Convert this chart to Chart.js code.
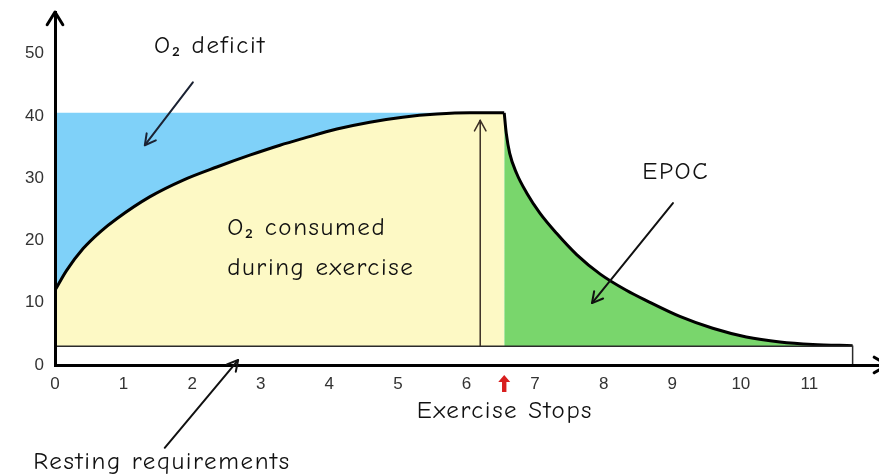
<!DOCTYPE html>
<html>
<head>
<meta charset="utf-8">
<script src="https://cdn.jsdelivr.net/npm/chart.js@4.4.1/dist/chart.umd.min.js"></script>
<style>
  html, body { margin: 0; padding: 0; background: #fff; }
  #wrap { width: 879px; height: 474px; }
</style>
</head>
<body>
<div id="wrap"><canvas id="chart"></canvas></div>
<script>
// 運動中的攝氧量
const riseX = [0, 0.17, 0.41, 0.66, 0.9, 1.38, 1.87, 2.36, 2.84, 3.28, 3.62, 4.11, 4.59, 5.07, 5.57, 6.05, 6.55];
const riseY = [12.0, 15.2, 18.7, 21.4, 23.5, 27.0, 29.7, 31.8, 33.7, 35.3, 36.4, 37.9, 39.0, 39.8, 40.3, 40.5, 40.5];

// EPOC 恢復曲線
const epocX = [6.55, 6.58, 6.63, 6.73, 6.88, 7.07, 7.31, 7.61, 7.95, 8.33, 8.63, 9.11, 9.59, 10.08, 10.57, 11.05, 11.63];
const epocY = [40.5, 37.2, 34.0, 30.8, 27.6, 24.4, 21.2, 17.7, 14.6, 12.0, 10.3, 7.8, 5.9, 4.5, 3.7, 3.3, 3.1];

// 需氧量平台、靜息需求
const demandLevel = 40.5;
const stopTime = 6.55;
const restLevel = 3;
const restEnd = 11.63;
const markerX = 6.2;
const markerTop = 39.3;

const xTicks = [0, 1, 2, 3, 4, 5, 6, 7, 8, 9, 10, 11];
const yTicks = [0, 10, 20, 30, 40, 50];

const toPoints = (xs, ys) => xs.map((x, i) => ({ x: x, y: ys[i] }));

const handFont = "'Comic Sans MS', 'Comic Neue', Lato, sans-serif";

// 說明文字與箭頭 (資料座標)
const labels = [
  { text: 'O\u2082 deficit', x: 2.26, y: 51.2, align: 'center' },
  { text: 'EPOC', x: 9.05, y: 31.0, align: 'center' },
  { text: 'O\u2082 consumed', x: 2.51, y: 22.0, align: 'left' },
  { text: 'during exercise', x: 2.51, y: 15.6, align: 'left' },
  { text: 'Exercise Stops', x: 6.56, y: -7.4, align: 'center' },
  { text: 'Resting requirements', x: 1.56, y: -15.6, align: 'center' }
];
const arrows = [
  { x1: 2.01, y1: 45.4, x2: 1.31, y2: 35.3, color: '#1b2233', width: 2 },
  { x1: 9.01, y1: 26.0, x2: 7.83, y2: 9.95, color: '#111', width: 2 },
  { x1: 1.60, y1: -13.3, x2: 2.67, y2: 0.8, color: '#111', width: 2 },
  { x1: markerX, y1: markerTop - 0.5, x2: markerX, y2: markerTop, color: '#3b2f25', width: 1.5 }
];

function chevron(ctx, x1, y1, x2, y2, len, spread) {
  const a = Math.atan2(y2 - y1, x2 - x1);
  ctx.beginPath();
  ctx.moveTo(x2 - len * Math.cos(a - spread), y2 - len * Math.sin(a - spread));
  ctx.lineTo(x2, y2);
  ctx.lineTo(x2 - len * Math.cos(a + spread), y2 - len * Math.sin(a + spread));
  ctx.stroke();
}

const overlay = {
  id: 'overlay',
  afterDraw(chart) {
    const ctx = chart.ctx;
    const xs = chart.scales.x, ys = chart.scales.y;
    const area = chart.chartArea;
    ctx.save();
    ctx.lineCap = 'round';
    ctx.lineJoin = 'round';

    // 座標軸箭頭
    ctx.strokeStyle = '#000';
    ctx.lineWidth = 3;
    chevron(ctx, area.left, area.bottom, area.left, area.top, 15, 0.55);
    chevron(ctx, area.left, area.bottom, area.right + 9, area.bottom, 15, 0.55);

    // 註解箭頭
    arrows.forEach(a => {
      const px1 = xs.getPixelForValue(a.x1), py1 = ys.getPixelForValue(a.y1);
      const px2 = xs.getPixelForValue(a.x2), py2 = ys.getPixelForValue(a.y2);
      ctx.strokeStyle = a.color;
      ctx.lineWidth = a.width;
      ctx.beginPath();
      ctx.moveTo(px1, py1);
      ctx.lineTo(px2, py2);
      ctx.stroke();
      chevron(ctx, px1, py1, px2, py2, 12, 0.5);
    });

    // 紅色箭頭 (運動停止)
    const rx = xs.getPixelForValue(stopTime);
    const rTop = area.bottom + 10;
    ctx.fillStyle = '#d81e1e';
    ctx.beginPath();
    ctx.moveTo(rx, rTop);
    ctx.lineTo(rx + 6, rTop + 7);
    ctx.lineTo(rx + 2.2, rTop + 7);
    ctx.lineTo(rx + 2.2, rTop + 17);
    ctx.lineTo(rx - 2.2, rTop + 17);
    ctx.lineTo(rx - 2.2, rTop + 7);
    ctx.lineTo(rx - 6, rTop + 7);
    ctx.closePath();
    ctx.fill();

    // 文字
    ctx.fillStyle = '#111';
    ctx.textBaseline = 'middle';
    ctx.font = '25px ' + handFont;
    ctx.letterSpacing = '1.6px';
    labels.forEach(l => {
      ctx.textAlign = l.align;
      ctx.fillText(l.text, xs.getPixelForValue(l.x), ys.getPixelForValue(l.y));
    });
    ctx.restore();
  }
};

new Chart(document.getElementById('chart'), {
  type: 'line',
  data: {
    datasets: [
      {
        // 靜息需求 (白色底帶)
        data: [{ x: 0, y: restLevel }, { x: restEnd, y: restLevel }, { x: restEnd, y: 0 }],
        borderColor: '#2b2b2b',
        borderWidth: 1.5,
        backgroundColor: '#ffffff',
        fill: 'origin',
        tension: 0,
        pointRadius: 0,
        order: 1
      },
      {
        // 垂直箭頭
        data: [{ x: markerX, y: restLevel }, { x: markerX, y: markerTop }],
        borderColor: '#3b2f25',
        borderWidth: 1.5,
        fill: false,
        pointRadius: 0,
        order: 0
      },
      {
        data: toPoints(epocX, epocY),
        borderColor: '#000',
        borderWidth: 3,
        backgroundColor: '#79d66c',
        fill: 'origin',
        cubicInterpolationMode: 'monotone',
        pointRadius: 0,
        order: 2
      },
      {
        data: toPoints(riseX, riseY),
        borderColor: '#000',
        borderWidth: 3,
        backgroundColor: '#fdf9c5',
        fill: 'origin',
        cubicInterpolationMode: 'monotone',
        pointRadius: 0,
        order: 3
      },
      {
        // 需氧量 (O2 deficit 區域)
        data: [{ x: 0, y: demandLevel }, { x: stopTime, y: demandLevel }],
        borderWidth: 0,
        borderColor: 'rgba(0,0,0,0)',
        backgroundColor: '#7fd1f9',
        fill: 'origin',
        pointRadius: 0,
        order: 4
      }
    ]
  },
  options: {
    responsive: true,
    maintainAspectRatio: false,
    animation: false,
    layout: { padding: { top: 12, right: 1, left: 0, bottom: 0 } },
    plugins: {
      legend: { display: false },
      tooltip: { enabled: false }
    },
    scales: {
      x: {
        type: 'linear',
        min: 0,
        max: 12,
        grid: { display: false, drawTicks: false },
        border: { display: true, color: '#000', width: 3, z: 1 },
        ticks: { stepSize: 1, padding: 9, color: '#333', font: { family: "'Liberation Sans', Arial", size: 17 } },
        afterBuildTicks: s => { s.ticks = xTicks.map(v => ({ value: v })); },
        afterFit: s => { s.height = 109; s.paddingLeft = 0; s.paddingRight = 0; }
      },
      y: {
        min: 0,
        max: 56.7,
        grid: { display: false, drawTicks: false },
        border: { display: true, color: '#000', width: 3, z: 1 },
        ticks: { stepSize: 10, padding: 11, color: '#333', font: { family: "'Liberation Sans', Arial", size: 17 } },
        afterBuildTicks: s => { s.ticks = yTicks.map(v => ({ value: v })); },
        afterFit: s => { s.width = 55; s.paddingTop = 0; s.paddingBottom = 0; }
      }
    }
  },
  plugins: [overlay]
});
</script>
</body>
</html>
